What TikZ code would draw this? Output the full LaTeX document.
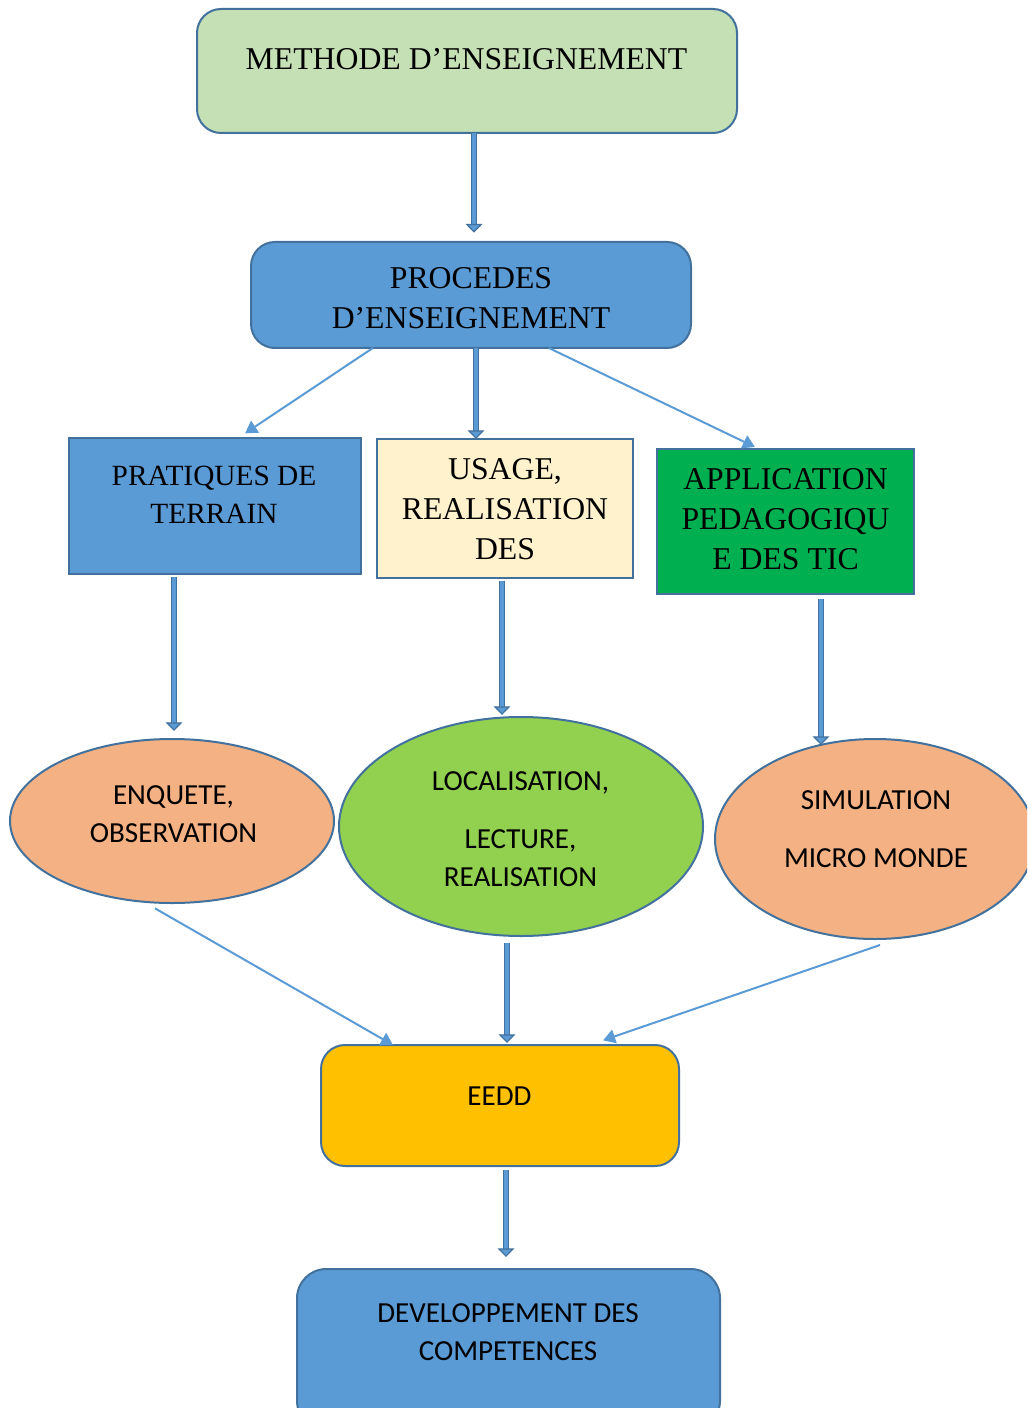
\documentclass[tikz,border=0pt]{standalone}
\usepackage{fontspec}
\setmainfont{Liberation Serif}
\newfontfamily\calibri{Carlito}
\usetikzlibrary{arrows.meta,calc,shapes.geometric}

\definecolor{bord}{HTML}{41719C}
\definecolor{paleGreen}{HTML}{C5E0B4}
\definecolor{midBlue}{HTML}{5B9BD5}
\definecolor{cream}{HTML}{FFF2CC}
\definecolor{richGreen}{HTML}{00B050}
\definecolor{peach}{HTML}{F4B183}
\definecolor{lime}{HTML}{92D050}
\definecolor{gold}{HTML}{FFC000}

\begin{document}
\begin{tikzpicture}[
  x=0.75pt, y=-0.75pt,
  shapebox/.style={draw=bord, line width=1.5pt, inner sep=0pt, outer sep=0pt},
  roundbox/.style={shapebox, rounded corners=18pt},
  oval/.style={shapebox, ellipse},
  serif/.style={font=\fontsize{23.8pt}{30pt}\selectfont, align=center, anchor=north, inner sep=0pt},
  sans/.style={font=\calibri\fontsize{21.8pt}{28.5pt}\selectfont, align=center, anchor=north, inner sep=0pt},
  heavy/.style={draw=bord, line width=0.9pt, double=midBlue, double distance=2.6pt,
    -{Triangle[width=12.5pt,length=6.5pt,line width=0.9pt,fill=midBlue]}},
  light/.style={draw=midBlue, line width=1.5pt, -{Triangle[width=10.5pt,length=9pt]}}
]
\useasboundingbox (0,0) rectangle (1027,1408);
\clip (0,0) rectangle (1027,1408);

% --- boxes and ovals ---
\node[roundbox, fill=paleGreen, minimum width=405pt, minimum height=93pt] (meth) at (467,71) {};
\node[roundbox, fill=midBlue, minimum width=330pt, minimum height=79.5pt] (proc) at (471,295) {};
\node[shapebox, fill=midBlue, minimum width=219pt, minimum height=102pt] (prat) at (215,506) {};
\node[shapebox, fill=cream, minimum width=192pt, minimum height=104.25pt] (usage) at (505,508.5) {};
\node[shapebox, fill=richGreen, minimum width=192.75pt, minimum height=108.75pt] (app) at (785.5,521.5) {};
\node[oval, fill=peach, minimum width=243pt, minimum height=123pt] (enq) at (172,821) {};
\node[oval, fill=lime, minimum width=273pt, minimum height=164.25pt] (loc) at (521,826.5) {};
\node[oval, fill=peach, minimum width=240pt, minimum height=150pt] (sim) at (875,839) {};
\node[roundbox, fill=gold, minimum width=268.5pt, minimum height=90.75pt] (eedd) at (500,1105.5) {};
\node[roundbox, rounded corners=22pt, fill=midBlue, minimum width=317.25pt, minimum height=120.75pt] (dev) at (508.5,1349.5) {};

% --- texts ---
\node[serif] (methT) at (466.5,48) {METHODE D’ENSEIGNEMENT};
\node[serif] (procT) at (471,267) {PROCEDES\\D’ENSEIGNEMENT};
\node[serif, font=\fontsize{22pt}{28.5pt}\selectfont] (pratT) at (214,466) {PRATIQUES DE\\TERRAIN};
\node[serif] (usageT) at (505,458) {USAGE,\\REALISATION\\DES};
\node[serif] (appT) at (785.5,468) {APPLICATION\\PEDAGOGIQU\\E DES TIC};
\node[sans] (enqT) at (173.5,785) {ENQUETE,\\OBSERVATION};
\node[sans] (locT) at (520.5,771) {LOCALISATION,\\[15pt]LECTURE,\\REALISATION};
\node[sans] (simT) at (876,790) {SIMULATION\\[15pt]MICRO MONDE};
\node[sans] (eeddT) at (499.5,1087) {EEDD};
\node[sans] (devT) at (508,1303) {DEVELOPPEMENT DES\\COMPETENCES};

% --- connectors ---
\draw[heavy, shorten >=7pt] ([xshift=2.25pt]proc.north |- meth.south) coordinate (methFoot) -- (methFoot |- proc.north);
\draw[light] ($(proc.south west)!0.277!(proc.south east)$) -- ([yshift=3.5pt]$(prat.north west)!0.603!(prat.north east)$);
\draw[heavy] ([xshift=3.75pt]proc.south) coordinate (procFoot) -- (procFoot |- usage.north);
\draw[light] ($(proc.south west)!0.677!(proc.south east)$) -- ([yshift=1.5pt]$(app.north west)!0.381!(app.north east)$);

\draw[heavy, shorten <=2pt, shorten >=6pt] ([xshift=1.5pt]enq.north |- prat.south) coordinate (pratFoot) -- (pratFoot |- enq.north);
\draw[heavy, shorten <=2pt, shorten >=1.5pt] ([xshift=-2.25pt]usage.south) coordinate (usageFoot) -- (usageFoot |- loc.north);
\draw[heavy, shorten <=4pt, shorten >=-4.5pt] ($(app.south west)!0.638!(app.south east)$) coordinate (appFoot) -- (appFoot |- sim.north);

\draw[light] ([xshift=-12.75pt,yshift=-4pt]enq.south) -- ($(eedd.north west)!0.201!(eedd.north east)$);
\draw[heavy, shorten <=5pt, shorten >=1.5pt] ([xshift=-10.5pt]loc.south) coordinate (locFoot) -- (locFoot |- eedd.north);
\draw[light] ([xshift=3.75pt,yshift=-4.5pt]sim.south) -- ([yshift=3.5pt]$(eedd.north west)!0.788!(eedd.north east)$);
\draw[heavy, shorten <=3pt, shorten >=9pt] ([xshift=4.5pt]eedd.south) coordinate (eeddFoot) -- (eeddFoot |- dev.north);
\end{tikzpicture}
\end{document}
